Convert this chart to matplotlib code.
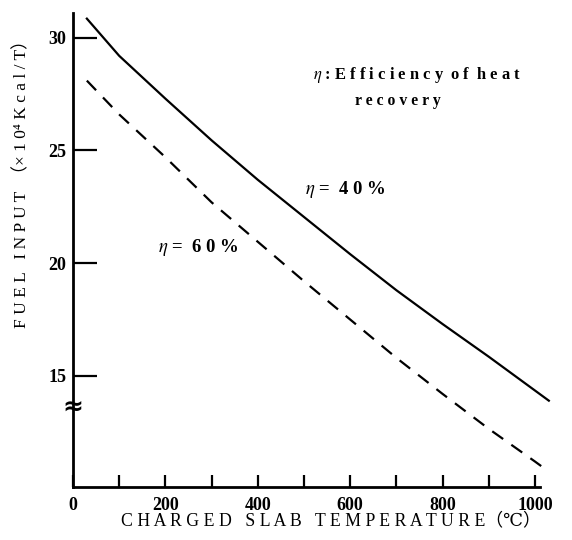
import matplotlib
matplotlib.use("Agg")
import matplotlib.pyplot as plt
import numpy as np

# ---- data ----
temp_40 = [30, 100, 200, 300, 400, 500, 600, 700, 800, 900, 1000, 1030]
fuel_40 = [30.85, 29.2, 27.3, 25.45, 23.7, 22.05, 20.4, 18.8, 17.3, 15.85, 14.35, 13.9]
temp_60 = [30, 100, 200, 300, 400, 500, 600, 700, 800, 900, 1000, 1020]
fuel_60 = [28.1, 26.6, 24.7, 22.7, 20.95, 19.2, 17.5, 15.8, 14.2, 12.65, 11.2, 10.9]
x_ticks = list(range(0, 1001, 100))
x_labels = ["0", "", "200", "", "400", "", "600", "", "800", "", "1000"]
y_ticks = [15, 20, 25, 30]
y_labels = ["15", "20", "25", "30"]

plt.rcParams['mathtext.fontset'] = 'stix'
serif = ['Liberation Serif', 'DejaVu Serif', 'Noto Sans CJK JP']

fig = plt.figure(figsize=(5.72, 5.4), dpi=100)
W, H = 572, 540
left, right = 73, 539.6
bottom, top = 487, 13
ax = fig.add_axes([left / W, (H - bottom) / H, (right - left) / W, (bottom - top) / H])
ax.set_xlim(0, 1010)
ax.set_ylim(10.07, 31.1)

ax.plot(temp_40, fuel_40, color='black', lw=1.6, clip_on=False)
ax.plot(temp_60, fuel_60, color='black', lw=1.6, ls=(0, (6, 4.5)), clip_on=False)

for s in ['top', 'right']:
    ax.spines[s].set_visible(False)
for s in ['left', 'bottom']:
    ax.spines[s].set_linewidth(2)

ax.set_xticks(x_ticks)
ax.set_xticklabels(x_labels)
ax.set_yticks(y_ticks)
ax.set_yticklabels(y_labels)
ax.tick_params(axis='y', direction='in', length=17, width=1.6, pad=5)
ax.tick_params(axis='x', direction='in', length=8.5, width=1.6, pad=7)
for lab in ax.get_xticklabels() + ax.get_yticklabels():
    lab.set_fontfamily(serif)
    lab.set_fontweight('bold')
    lab.set_fontsize(13)

# axis break symbol
ax.text(0, 13.6, '≈', transform=ax.transData, ha='center', va='center',
        fontsize=18, fontweight='bold', family=['DejaVu Sans'], clip_on=False)

fig.text(331 / W, 1 - 521 / H, 'C H A R G E D   S L A B   T E M P E R A T U R E（℃）',
         ha='center', va='center', fontsize=12.8, family=serif)
fig.text(22 / W, 1 - 180 / H, 'F U E L   I N P U T  （× 1 0⁴ K c a l / T）',
         ha='center', va='center', rotation=90, fontsize=12.5, family=serif)

fig.text(313 / W, 1 - 75 / H, r'$\eta$ : E f f i c i e n c y  o f  h e a t',
         ha='left', va='center', fontsize=11.9, fontweight='bold', family=serif)
fig.text(355 / W, 1 - 101 / H, 'r e c o v e r y',
         ha='left', va='center', fontsize=11.3, fontweight='bold', family=serif)
fig.text(305 / W, 1 - 190 / H, r'$\eta$ =  4 0 %',
         ha='left', va='center', fontsize=13.5, fontweight='bold', family=serif)
fig.text(158 / W, 1 - 248 / H, r'$\eta$ =  6 0 %',
         ha='left', va='center', fontsize=13.5, fontweight='bold', family=serif)

fig.savefig('out.png', dpi=100)
